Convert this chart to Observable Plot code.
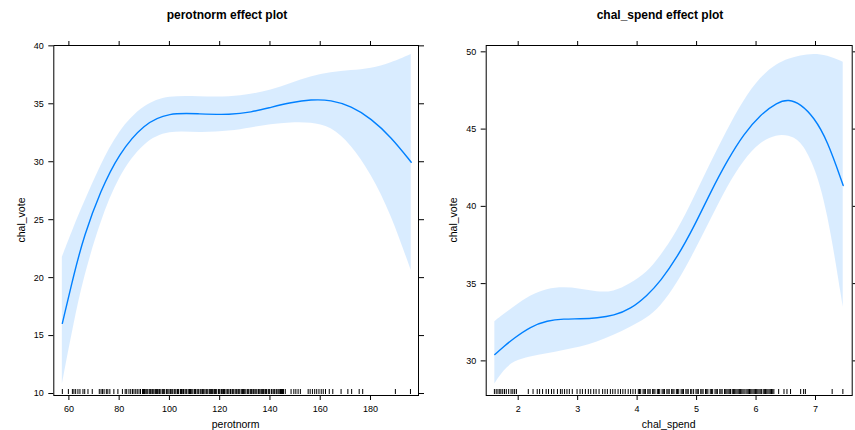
<!DOCTYPE html>
<html>
<head>
<meta charset="utf-8">
<script src="https://cdn.jsdelivr.net/npm/d3@7"></script>
<script src="https://cdn.jsdelivr.net/npm/@observablehq/plot@0.6"></script>
<style>
  html, body { margin: 0; padding: 0; background: white; }
  #wrap { position: relative; width: 855px; height: 430px; font-family: "Liberation Sans", Arial, Helvetica, sans-serif; color: black; overflow: hidden; }
  .panel { position: absolute; top: 0; }
  .title { position: absolute; font-weight: bold; font-size: 12px; line-height: 12px; white-space: nowrap; transform: translateX(-50%); }
  .xlab { position: absolute; font-size: 10.5px; line-height: 10.5px; white-space: nowrap; transform: translateX(-50%); }
  .ylab { position: absolute; font-size: 10.5px; line-height: 10.5px; white-space: nowrap; transform: translate(-50%, -50%) rotate(-90deg); }
</style>
</head>
<body>
<div id="wrap"></div>
<script>
// ---- perotnorm effect ----
const perotX     = [57.4, 62.0, 66.0, 72.6, 79.9, 89.9, 99.8, 112, 124.4, 132.4, 140.4, 148.4, 156.3, 164.3, 172.3, 180.3, 188.2, 196.2];
const perotFit   = [16.06, 20.3, 23.6, 27.5, 30.7, 33.3, 34.25, 34.12, 34.05, 34.27, 34.7, 35.11, 35.37, 35.34, 34.79, 33.73, 32.12, 29.96];
const perotUpper = [21.76, 24.35, 26.4, 29.67, 32.7, 34.94, 35.71, 35.6, 35.57, 35.8, 36.14, 36.77, 37.35, 37.7, 37.87, 38.01, 38.5, 39.25];
const perotLower = [10.8, 16.0, 20.0, 24.8, 28.8, 31.7, 32.7, 32.45, 32.63, 32.92, 33.21, 33.38, 33.38, 33.04, 31.48, 28.95, 25.5, 20.61];
const perotRug = [57.4, 59.8, 61.4, 62.0, 62.7, 63.6, 64.4, 65.6, 66.3, 67.6, 69.3, 72.1, 72.8, 73.4, 74.0, 74.9, 75.5, 76.3, 77.9, 79.5, 81.3, 82.4, 83.0, 83.9, 84.6, 85.3, 85.9, 86.6, 87.2, 87.9, 88.5, 89.3, 89.7, 90.1, 90.6, 91.0, 91.4, 92.0, 92.4, 92.7, 93.2, 93.5, 93.9, 94.5, 94.9, 95.3, 95.8, 96.1, 96.6, 97.2, 97.6, 98.1, 98.8, 99.1, 99.5, 100.2, 100.5, 100.7, 101.3, 101.9, 102.2, 102.6, 103.2, 103.5, 103.7, 104.4, 104.8, 105.1, 105.6, 106.2, 106.6, 106.9, 107.5, 108.0, 108.4, 108.7, 109.3, 109.9, 110.1, 110.4, 111.0, 111.4, 111.7, 112.3, 112.9, 113.2, 113.5, 114.1, 114.6, 114.9, 115.3, 115.9, 116.4, 116.7, 117.1, 117.7, 118.0, 118.3, 118.8, 119.5, 119.8, 120.1, 120.7, 121.2, 121.5, 121.9, 122.5, 123.0, 123.3, 123.7, 124.3, 124.9, 125.2, 125.4, 126.1, 126.5, 126.8, 127.3, 127.6, 128.0, 128.6, 129.1, 129.5, 129.8, 130.4, 131.0, 131.3, 131.6, 132.2, 132.6, 132.9, 133.5, 134.0, 134.4, 134.8, 135.4, 135.7, 136.1, 136.7, 137.1, 137.4, 138.0, 138.3, 138.6, 139.3, 139.6, 139.9, 140.6, 141.2, 141.6, 141.9, 142.5, 142.8, 143.3, 143.9, 144.2, 144.6, 145.0, 145.4, 146.1, 148.4, 149.5, 150.3, 151.2, 152.1, 155.2, 156.0, 156.9, 157.8, 158.6, 159.5, 160.4, 161.2, 162.1, 163.6, 165.0, 168.3, 171.0, 172.5, 175.5, 176.9, 189.9, 195.9];
const perotXTicks = [60, 80, 100, 120, 140, 160, 180];
const perotYTicks = [10, 15, 20, 25, 30, 35, 40];

// ---- chal_spend effect ----
const spendX     = [1.607, 1.758, 1.926, 2.207, 2.488, 2.767, 3.048, 3.329, 3.608, 3.889, 4.17, 4.393, 4.674, 4.953, 5.234, 5.515, 5.794, 6.075, 6.356, 6.551, 6.748, 6.972, 7.197, 7.466];
const spendFit   = [30.41, 30.93, 31.46, 32.22, 32.61, 32.72, 32.72, 32.78, 32.93, 33.35, 34.23, 35.15, 36.71, 38.65, 40.91, 42.96, 44.69, 45.94, 46.74, 46.93, 46.63, 45.77, 44.3, 41.35];
const spendUpper = [32.54, 33.0, 33.47, 34.23, 34.66, 34.76, 34.66, 34.44, 34.44, 34.98, 35.7, 36.75, 38.35, 40.5, 42.75, 44.91, 46.85, 48.36, 49.22, 49.55, 49.74, 49.87, 49.76, 49.33];
const spendLower = [28.51, 29.37, 29.97, 30.28, 30.45, 30.67, 30.88, 31.2, 31.64, 32.17, 32.75, 33.47, 34.98, 36.93, 39.08, 41.24, 42.96, 44.15, 44.63, 44.58, 44.26, 42.75, 39.94, 33.47];
const spendRug = [1.60, 1.63, 1.66, 1.69, 1.71, 1.74, 1.77, 1.80, 1.84, 1.88, 1.91, 1.94, 1.97, 2.17, 2.25, 2.32, 2.36, 2.41, 2.47, 2.51, 2.56, 2.60, 2.66, 2.71, 2.74, 2.78, 2.82, 2.86, 2.91, 2.99, 3.04, 3.08, 3.13, 3.18, 3.22, 3.27, 3.31, 3.36, 3.42, 3.46, 3.50, 3.55, 3.59, 3.63, 3.68, 3.72, 3.76, 3.80, 3.85, 3.89, 3.93, 3.97, 4.02, 4.04, 4.06, 4.10, 4.12, 4.14, 4.18, 4.20, 4.22, 4.26, 4.28, 4.30, 4.34, 4.36, 4.38, 4.42, 4.44, 4.46, 4.50, 4.52, 4.54, 4.58, 4.60, 4.62, 4.66, 4.68, 4.70, 4.74, 4.76, 4.78, 4.82, 4.84, 4.86, 4.90, 4.92, 4.95, 4.99, 5.01, 5.03, 5.07, 5.09, 5.11, 5.15, 5.17, 5.19, 5.23, 5.25, 5.27, 5.31, 5.33, 5.35, 5.39, 5.41, 5.43, 5.47, 5.49, 5.51, 5.53, 5.55, 5.57, 5.60, 5.62, 5.64, 5.66, 5.68, 5.70, 5.72, 5.74, 5.76, 5.78, 5.80, 5.83, 5.85, 5.87, 5.89, 5.91, 5.93, 5.95, 5.97, 5.99, 6.01, 6.03, 6.05, 6.07, 6.09, 6.12, 6.14, 6.16, 6.18, 6.20, 6.22, 6.24, 6.26, 6.28, 6.30, 6.38, 6.47, 6.52, 6.58, 6.75, 6.80, 6.83, 7.28, 7.46];
const spendXTicks = [2, 3, 4, 5, 6, 7];
const spendYTicks = [30, 35, 40, 45, 50];

const LINE = "#0080ff";

function table(xs, fit, lo, hi) {
  return xs.map((x, i) => ({x, fit: fit[i], lower: lo[i], upper: hi[i]}));
}

function panel({data, rug, xDomain, yDomain, xTicks, yTicks, width, marginLeft, marginRight}) {
  const height = 430, marginTop = 45, marginBottom = 35;
  const frameH = height - marginTop - marginBottom;
  const fmt = d => String(d);
  return Plot.plot({
    width, height, marginLeft, marginRight, marginTop, marginBottom,
    style: {fontFamily: "'Liberation Sans', Arial, Helvetica, sans-serif", fontSize: "9px", color: "black", background: "transparent", overflow: "visible"},
    x: {domain: xDomain},
    y: {domain: yDomain},
    marks: [
      Plot.areaY(data, {x: "x", y1: "lower", y2: "upper", fill: LINE, fillOpacity: 0.15, curve: "basis"}),
      Plot.line(data, {x: "x", y: "fit", stroke: LINE, strokeWidth: 1.4, curve: "basis"}),
      Plot.tickX(rug, {x: d => d, stroke: "black", strokeWidth: 1, insetTop: frameH - 6, insetBottom: 1}),
      Plot.frame({stroke: "black", strokeWidth: 1}),
      Plot.axisX({ticks: xTicks, anchor: "bottom", tickSize: 5, tickPadding: 5, tickFormat: fmt, label: null}),
      Plot.axisX({ticks: xTicks, anchor: "top", tickSize: 5, tickFormat: () => "", label: null}),
      Plot.axisY({ticks: yTicks, anchor: "left", tickSize: 5, tickPadding: 5, tickFormat: fmt, label: null}),
      Plot.axisY({ticks: yTicks, anchor: "right", tickSize: 5, tickFormat: () => "", label: null})
    ]
  });
}

const wrap = document.getElementById("wrap");

const left = panel({
  data: table(perotX, perotFit, perotLower, perotUpper), rug: perotRug,
  xDomain: [54.0, 199.1], yDomain: [9.83, 40.03],
  xTicks: perotXTicks, yTicks: perotYTicks,
  width: 427, marginLeft: 53.3, marginRight: 9
});
left.classList.add("panel");
left.style.left = "0px";
wrap.appendChild(left);

const right = panel({
  data: table(spendX, spendFit, spendLower, spendUpper), rug: spendRug,
  xDomain: [1.462, 7.617], yDomain: [27.76, 50.41],
  xTicks: spendXTicks, yTicks: spendYTicks,
  width: 428, marginLeft: 58.7, marginRight: 3.3
});
right.classList.add("panel");
right.style.left = "427px";
wrap.appendChild(right);

function addText(cls, text, x, y) {
  const d = document.createElement("div");
  d.className = cls;
  d.textContent = text;
  d.style.left = x + "px";
  d.style.top = y + "px";
  wrap.appendChild(d);
}
addText("title", "perotnorm effect plot", 227, 9);
addText("title", "chal_spend effect plot", 660, 9);
addText("xlab", "perotnorm", 235.7, 419);
addText("xlab", "chal_spend", 668.7, 419);
addText("ylab", "chal_vote", 20.7, 220);
addText("ylab", "chal_vote", 453.3, 220);
</script>
</body>
</html>
